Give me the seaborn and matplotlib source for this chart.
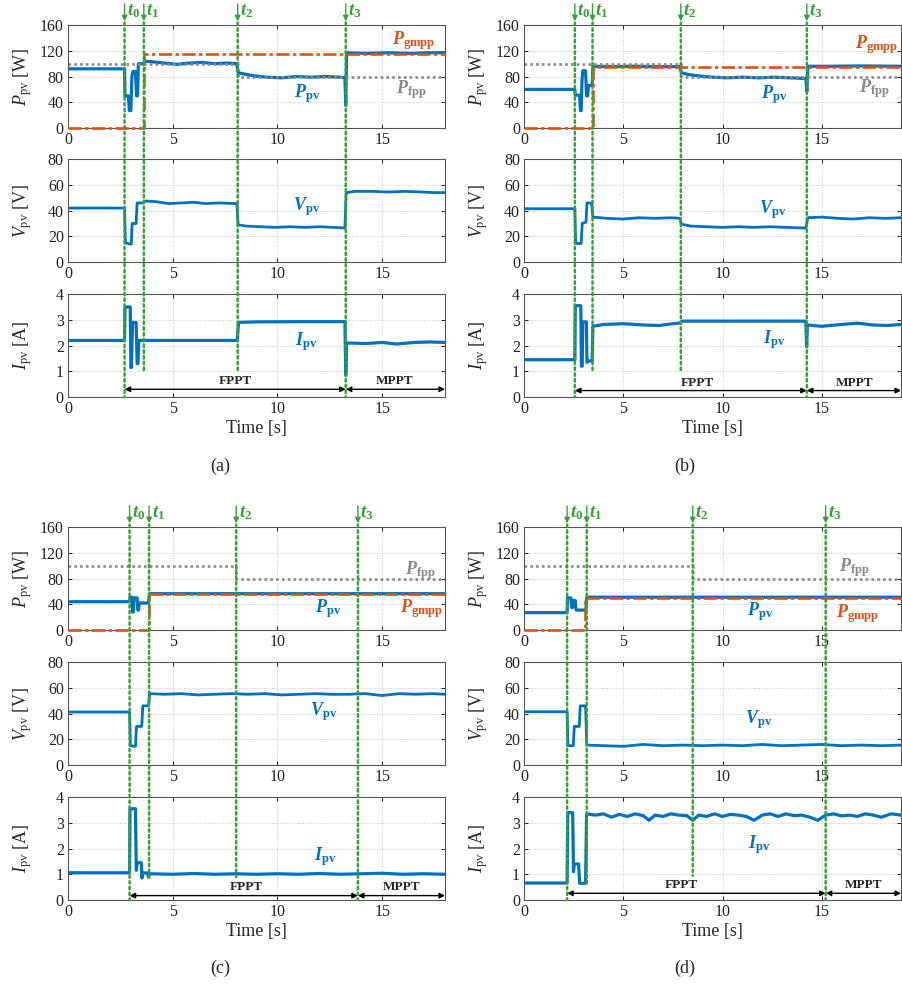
import matplotlib
matplotlib.use("Agg")
import numpy as np
import pandas as pd
import matplotlib.pyplot as plt
from matplotlib.patches import ConnectionPatch
import seaborn as sns

# ==============================
# data read off the four test cases
# ==============================

# event instants t0, t1, t2, t3 [s]
a_events = [2.70, 3.62, 8.10, 13.26]
b_events = [2.56, 3.45, 7.90, 14.25]
c_events = [2.94, 3.87, 8.03, 13.84]
d_events = [2.17, 3.16, 8.50, 15.20]

# case (a)
a_ppv = [(0, 92), (2.70, 92), (2.72, 50), (2.88, 50), (2.93, 27), (3.00, 27), (3.05, 80), (3.10, 88),
         (3.22, 88), (3.27, 50), (3.32, 50), (3.36, 100), (3.60, 100), (3.66, 104), (4.0, 103), (4.6, 101),
         (5.2, 99), (5.8, 101), (6.4, 102), (7.0, 100), (7.6, 101), (8.06, 100), (8.12, 86), (8.4, 84),
         (8.9, 81), (9.5, 79), (10.2, 78), (10.9, 80), (11.6, 79), (12.3, 80), (13.0, 79), (13.22, 78),
         (13.26, 35), (13.30, 117), (14.2, 116), (15.3, 117), (16.4, 116), (17.2, 117), (18, 117)]
a_gmpp = [(0, 0), (3.62, 0), (3.62, 115), (18, 115)]
a_fpp = [(0, 100), (8.10, 100), (8.10, 80), (18, 80)]
a_vpv = [(0, 42), (2.70, 42), (2.74, 15), (2.98, 14), (3.02, 14), (3.06, 30), (3.25, 30), (3.30, 46),
         (3.60, 46), (3.68, 47.5), (4.2, 47), (4.8, 45.5), (5.4, 46), (6.0, 46.5), (6.6, 45.5), (7.2, 46),
         (8.06, 45.5), (8.12, 29), (8.5, 28), (9.2, 27.5), (9.9, 27), (10.6, 27.5), (11.3, 27), (12.0, 27.5),
         (12.7, 27), (13.22, 26.5), (13.28, 54), (13.7, 55), (14.5, 55), (15.3, 54.5), (16.1, 55),
         (16.9, 54.5), (17.5, 54), (18, 54)]
a_ipv = [(0, 2.2), (2.70, 2.2), (2.72, 3.5), (2.97, 3.5), (3.00, 1.15), (3.03, 1.15), (3.08, 2.9),
         (3.25, 2.9), (3.30, 1.3), (3.34, 1.3), (3.38, 2.2), (8.08, 2.2), (8.14, 2.9), (9.0, 2.92),
         (11.0, 2.93), (13.22, 2.93), (13.26, 0.85), (13.30, 2.1), (14.2, 2.08), (15.0, 2.12),
         (15.7, 2.06), (16.5, 2.12), (17.3, 2.14), (18, 2.12)]

# case (b)
b_ppv = [(0, 60), (2.56, 60), (2.58, 51), (2.80, 51), (2.84, 27), (2.88, 27), (2.92, 75), (2.96, 89),
         (3.10, 89), (3.15, 50), (3.20, 50), (3.25, 66), (3.43, 66), (3.47, 96), (4.5, 95.5), (5.5, 96),
         (6.5, 95.5), (7.86, 95.5), (7.92, 86), (8.3, 83), (8.8, 81), (9.5, 79), (10.2, 78), (11.0, 79),
         (11.8, 78), (12.6, 79), (13.4, 78), (14.20, 77), (14.25, 57), (14.30, 96), (15.5, 96),
         (17.0, 96.5), (19, 96)]
b_gmpp = [(0, 0), (3.45, 0), (3.45, 95.5), (19, 95.5)]
b_fpp = [(0, 100), (7.90, 100), (7.90, 80), (19, 80)]
b_vpv = [(0, 41.5), (2.56, 41.5), (2.60, 14.5), (2.88, 14.5), (2.93, 30), (3.12, 31), (3.17, 46),
         (3.40, 46), (3.47, 35), (4.2, 34), (5.0, 33.5), (5.8, 34.5), (6.6, 34), (7.4, 34.5), (7.86, 34),
         (7.92, 29.5), (8.4, 28), (9.2, 27.5), (10.0, 27), (10.8, 27.5), (11.6, 27), (12.4, 27.5),
         (13.2, 27), (14.20, 26.5), (14.30, 34.5), (15.0, 35), (15.8, 34), (16.6, 33.5), (17.4, 34.5),
         (18.2, 34), (19, 34.5)]
b_ipv = [(0, 1.45), (2.56, 1.45), (2.58, 3.55), (2.86, 3.55), (2.89, 1.2), (2.93, 1.2), (2.96, 2.92),
         (3.14, 2.92), (3.17, 1.35), (3.22, 1.4), (3.43, 1.4), (3.47, 2.75), (4.0, 2.82), (5.0, 2.85),
         (6.0, 2.8), (6.8, 2.78), (7.5, 2.85), (7.90, 2.88), (7.95, 2.95), (14.20, 2.95), (14.24, 1.95),
         (14.28, 2.8), (15.0, 2.75), (16.0, 2.82), (16.8, 2.87), (17.6, 2.8), (18.3, 2.78), (19, 2.82)]

# case (c)
c_ppv = [(0, 44), (2.94, 44), (2.96, 51), (3.05, 51), (3.08, 28), (3.12, 28), (3.15, 50), (3.30, 50),
         (3.33, 31), (3.37, 31), (3.40, 42), (3.84, 42), (3.89, 56.5), (18, 56.5)]
c_gmpp = [(0, 0), (3.87, 0), (3.87, 56), (18, 56)]
c_fpp = [(0, 100), (8.03, 100), (8.03, 80), (18, 80)]
c_vpv = [(0, 41.2), (2.94, 41.2), (2.98, 15), (3.22, 14.5), (3.27, 30), (3.52, 30), (3.57, 46),
         (3.84, 46), (3.90, 55.5), (4.6, 55), (5.4, 55.5), (6.2, 54.5), (7.0, 55), (7.8, 55.5), (8.6, 55),
         (9.4, 55.5), (10.2, 54.5), (11.0, 55), (11.8, 55.5), (12.6, 55), (13.4, 55), (14.2, 55.5),
         (15.0, 54), (15.8, 55.5), (16.6, 55), (17.4, 55.5), (18, 55)]
c_ipv = [(0, 1.06), (2.94, 1.06), (2.96, 3.55), (3.22, 3.55), (3.26, 1.15), (3.30, 1.45), (3.50, 1.45),
         (3.53, 0.85), (3.57, 1.05), (3.80, 1.05), (3.84, 0.9), (3.90, 1.02), (5, 1.0), (6, 1.03), (7, 1.0),
         (8, 1.02), (9, 1.0), (10, 1.02), (11, 1.0), (12, 1.03), (13, 1.0), (14, 1.02), (15, 1.04),
         (16, 1.0), (17, 1.02), (18, 1.0)]

# case (d)
d_ppv = [(0, 27), (2.17, 27), (2.19, 50), (2.36, 50), (2.40, 35), (2.45, 35), (2.48, 46), (2.58, 46),
         (2.62, 31), (3.12, 31), (3.16, 51), (19, 51)]
d_gmpp = [(0, 0), (3.06, 0), (3.06, 50.5), (19, 50.5)]
d_fpp = [(0, 100), (8.50, 100), (8.50, 80), (19, 80)]
d_vpv = [(0, 41.4), (2.17, 41.4), (2.21, 15), (2.48, 15), (2.53, 30), (2.78, 30), (2.83, 46), (3.10, 46),
         (3.16, 15.5), (4, 15), (5, 14.5), (6, 16), (7, 15), (8, 15.5), (9, 15), (10, 15.5), (11, 15),
         (12, 16), (13, 15), (14, 15.5), (15, 16), (16, 15), (17, 15.5), (18, 15), (19, 15.5)]
d_ipv = [(0, 0.66), (2.17, 0.66), (2.20, 3.4), (2.45, 3.4), (2.49, 1.1), (2.53, 1.4), (2.75, 1.4),
         (2.80, 0.65), (3.10, 0.65), (3.15, 3.35), (3.6, 3.3), (4.0, 3.35), (4.4, 3.22), (4.8, 3.33),
         (5.2, 3.25), (5.6, 3.35), (6.0, 3.28), (6.3, 3.1), (6.6, 3.3), (7.0, 3.25), (7.4, 3.35), (7.8, 3.3),
         (8.2, 3.28), (8.5, 3.1), (8.8, 3.3), (9.2, 3.25), (9.6, 3.35), (10.0, 3.25), (10.4, 3.33),
         (10.8, 3.3), (11.2, 3.25), (11.6, 3.1), (12.0, 3.3), (12.4, 3.35), (12.8, 3.25), (13.2, 3.35),
         (13.6, 3.28), (14.0, 3.3), (14.4, 3.22), (14.8, 3.1), (15.2, 3.3), (15.6, 3.35), (16.0, 3.27),
         (16.4, 3.3), (16.8, 3.25), (17.2, 3.35), (17.6, 3.3), (18.0, 3.22), (18.5, 3.35), (19, 3.3)]

tags = ["(a)", "(b)", "(c)", "(d)"]
x_max = [18, 19, 18, 19]
event_names = [r"$\mathbfit{t}_{\mathbf{0}}$", r"$\mathbfit{t}_{\mathbf{1}}$",
               r"$\mathbfit{t}_{\mathbf{2}}$", r"$\mathbfit{t}_{\mathbf{3}}$"]

# ==============================
# layout / styling
# ==============================

GREEN = "#3a9f3a"
BLUE = "#0072bd"
ORANGE = "#d95319"
GREY = "#8a8a8a"

col_left = [0.0754, 0.581]
row_bottoms = [[0.8706, 0.735, 0.5986], [0.363, 0.2265, 0.090]]
AX_W, AX_H = 0.418, 0.104

# text anchors (data coords) per panel
label_pos = {
    "(a)": dict(gmpp=(16.5, 136), fpp=(16.4, 60), ppv=(11.4, 54), vpv=(11.4, 43), ipv=(11.4, 2.17),
                fppt=(8.0, 0.62), mppt=(15.6, 0.62), arr=0.3, ends=[0, 0.95, 0.95, 0]),
    "(b)": dict(gmpp=(17.75, 130), fpp=(17.65, 61), ppv=(12.6, 51.5), vpv=(12.55, 41), ipv=(12.6, 2.24),
                fppt=(8.75, 0.56), mppt=(16.65, 0.56), arr=0.25, ends=[0, 0.95, 0.95, 0]),
    "(c)": dict(gmpp=(16.9, 33), fpp=(16.8, 93), ppv=(12.4, 34), vpv=(12.2, 41.7), ipv=(12.3, 1.68),
                fppt=(8.5, 0.5), mppt=(15.9, 0.5), arr=0.17, ends=[0, 0.85, 0.9, 0]),
    "(d)": dict(gmpp=(16.8, 25), fpp=(16.65, 97), ppv=(11.9, 29), vpv=(11.85, 35), ipv=(11.85, 2.17),
                fppt=(7.95, 0.58), mppt=(17.1, 0.58), arr=0.26, ends=[0, 0.55, 0.94, 0]),
}
tag_pos = {"(a)": (0.244, 0.528), "(b)": (0.759, 0.528), "(c)": (0.244, 0.021), "(d)": (0.759, 0.021)}

sns.set_theme(style="ticks")
plt.rcParams["font.family"] = ["Liberation Serif", "DejaVu Serif"]
plt.rcParams["mathtext.fontset"] = "custom"
plt.rcParams["mathtext.rm"] = "Liberation Serif"
plt.rcParams["mathtext.it"] = "Liberation Serif:italic"
plt.rcParams["mathtext.bf"] = "Liberation Serif:bold"
plt.rcParams["mathtext.bfit"] = "Liberation Serif:italic:bold"


def trace(ax, pts, **kw):
    df = pd.DataFrame(pts, columns=["t", "y"])
    sns.lineplot(data=df, x="t", y="y", ax=ax, estimator=None, sort=False, legend=False, **kw)


def style_axis(ax, xmax, ymax, yticks, ylabel):
    ax.set_xlim(0, xmax)
    ax.set_ylim(0, ymax)
    ax.set_xticks([0, 5, 10, 15])
    ax.set_yticks(yticks)
    ax.grid(True, ls=":", color="#c8c8c8", lw=0.7)
    ax.tick_params(direction="in", length=3, width=0.7, colors="#222222", labelsize=11.5,
                   top=True, right=True, pad=3)
    for s in ax.spines.values():
        s.set_color("#555555")
        s.set_linewidth(0.8)
    ax.set_ylabel(ylabel, fontsize=13)
    ax.yaxis.set_label_coords(-0.09, 0.5)
    ax.set_xlabel("")


fig = plt.figure(figsize=(9.02, 9.89), dpi=100)

all_data = {
    "(a)": (a_events, a_ppv, a_gmpp, a_fpp, a_vpv, a_ipv),
    "(b)": (b_events, b_ppv, b_gmpp, b_fpp, b_vpv, b_ipv),
    "(c)": (c_events, c_ppv, c_gmpp, c_fpp, c_vpv, c_ipv),
    "(d)": (d_events, d_ppv, d_gmpp, d_fpp, d_vpv, d_ipv),
}

for k, tag in enumerate(tags):
    row, col = divmod(k, 2)
    events, ppv, gmpp, fpp, vpv, ipv = all_data[tag]
    xmax = x_max[k]
    lp = label_pos[tag]
    left = col_left[col]
    axP = fig.add_axes([left, row_bottoms[row][0], AX_W, AX_H])
    axV = fig.add_axes([left, row_bottoms[row][1], AX_W, AX_H])
    axI = fig.add_axes([left, row_bottoms[row][2], AX_W, AX_H])

    # power
    trace(axP, ppv, color=BLUE, lw=2.3)
    trace(axP, gmpp, color=ORANGE, lw=1.9, linestyle=(0, (5, 1.3, 1.3, 1.3)), clip_on=False, zorder=3)
    trace(axP, fpp, color=GREY, lw=1.9, linestyle=(0, (1, 1.2)))
    style_axis(axP, xmax, 160, [0, 40, 80, 120, 160], r"$P_{\rm pv}$ [W]")
    axP.text(*lp["gmpp"], r"$\mathbfit{P}_{\mathbf{gmpp}}$", color=ORANGE, fontsize=13, ha="center", va="center")
    axP.text(*lp["fpp"], r"$\mathbfit{P}_{\mathbf{fpp}}$", color=GREY, fontsize=13, ha="center", va="center")
    axP.text(*lp["ppv"], r"$\mathbfit{P}_{\mathbf{pv}}$", color=BLUE, fontsize=13, ha="center", va="center")

    # voltage
    trace(axV, vpv, color=BLUE, lw=2.0)
    style_axis(axV, xmax, 80, [0, 20, 40, 60, 80], r"$V_{\rm pv}$ [V]")
    axV.text(*lp["vpv"], r"$\mathbfit{V}_{\mathbf{pv}}$", color=BLUE, fontsize=13, ha="center", va="center")

    # current
    trace(axI, ipv, color=BLUE, lw=2.3)
    style_axis(axI, xmax, 4, [0, 1, 2, 3, 4], r"$I_{\rm pv}$ [A]")
    axI.set_xlabel("Time [s]", fontsize=13, labelpad=2)
    axI.text(*lp["ipv"], r"$\mathbfit{I}_{\mathbf{pv}}$", color=BLUE, fontsize=13, ha="center", va="center")

    # mode arrows
    arr = dict(arrowstyle="<|-|>", color="black", lw=1.0, mutation_scale=8, shrinkA=0, shrinkB=0)
    axI.annotate("", xy=(events[3], lp["arr"]), xytext=(events[0], lp["arr"]), arrowprops=arr,
                 annotation_clip=False)
    axI.annotate("", xy=(xmax, lp["arr"]), xytext=(events[3], lp["arr"]), arrowprops=arr,
                 annotation_clip=False)
    axI.text(*lp["fppt"], "FPPT", fontsize=9.5, fontweight="bold", ha="center", va="center")
    axI.text(*lp["mppt"], "MPPT", fontsize=9.5, fontweight="bold", ha="center", va="center")

    # event markers
    for j, te in enumerate(events):
        con = ConnectionPatch(xyA=(te, 164), coordsA=axP.transData,
                              xyB=(te, lp["ends"][j]), coordsB=axI.transData,
                              color=GREEN, lw=1.8, linestyle=(0, (1.0, 1.3)), zorder=5)
        fig.add_artist(con)
        axP.annotate("", xy=(te, 166), xytext=(te, 193),
                     arrowprops=dict(arrowstyle="-|>", color=GREEN, lw=1.0, mutation_scale=8,
                                     shrinkA=0, shrinkB=0),
                     annotation_clip=False)
        axP.text(te + 0.12, 181, event_names[j], color=GREEN, fontsize=13.5, ha="left", va="center")

    fig.text(*tag_pos[tag], tag, fontsize=13, ha="center", va="center")

fig.savefig("out.png", dpi=100)
